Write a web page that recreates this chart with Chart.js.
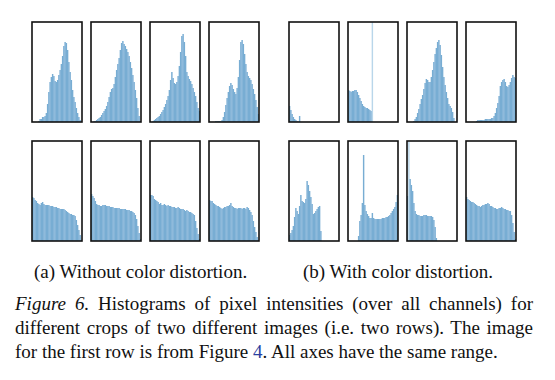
<!DOCTYPE html>
<html>
<head>
<meta charset="utf-8">
<script src="https://cdn.jsdelivr.net/npm/chart.js@4/dist/chart.umd.min.js"></script>
<style>
  html, body { margin: 0; padding: 0; background: #fff; }
  body { width: 555px; height: 380px; position: relative; overflow: hidden; font-family: "Liberation Serif", "Times New Roman", serif; color: #111; }
  .cell { position: absolute; width: 54px; height: 104px; }
  .sub { position: absolute; top: 260px; font-size: 19px; line-height: 24px; white-space: nowrap; }
  .caption { position: absolute; left: 15px; top: 292px; width: 518px; font-size: 19px; line-height: 24px; text-align: justify; }
  .caption a { color: #2a3fa0; text-decoration: none; }
</style>
</head>
<body>
<div id="plots"></div>
<div class="sub" style="left:34px">(a) Without color distortion.</div>
<div class="sub" style="left:303px">(b) With color distortion.</div>
<div class="caption"><i>Figure 6.</i> Histograms of pixel intensities (over all channels) for different crops of two different images (i.e. two rows). The image for the first row is from Figure <a>4</a>. All axes have the same range.</div>
<script>
// 40 intensity bins per histogram, heights as % of the shared y range
const bins = Array.from({ length: 40 }, (_, i) => i);

// (a) without color distortion, row 1
const a1 = [0,0,0,0,0,1,3,3,5,5,6,9,18,30,40,45,48,46,41,40,42,47,52,58,66,76,80,79,72,60,50,42,32,25,20,14,9,5,2,0];
const a2 = [0,0,1,1,2,3,4,5,7,9,11,13,16,20,25,30,33,34,38,45,52,58,64,72,79,81,78,76,73,70,66,60,54,47,40,32,24,14,6,1];
const a3 = [0,0,1,2,3,4,5,6,8,10,12,15,18,22,26,32,42,50,44,39,38,40,46,56,70,86,88,80,66,50,46,43,41,38,34,30,26,20,14,11];
const a4 = [0,0,0,0,0,1,1,1,1,1,2,5,10,17,24,30,36,39,37,33,30,28,34,45,62,80,82,78,68,58,50,46,44,42,38,33,28,22,15,8];
// (a) row 2
const a5 = [44,43,41,40,38,37,36,38,39,37,36,36,36,36,35,35,35,34,34,34,33,33,32,32,32,32,31,30,29,28,27,27,26,26,25,21,16,11,6,1];
const a6 = [47,45,43,40,37,36,36,35,35,36,36,36,35,35,35,34,34,34,33,33,33,33,33,32,32,32,32,32,31,31,31,30,30,29,28,26,22,15,8,2];
const a7 = [46,46,45,42,41,40,39,37,38,36,36,37,36,35,36,35,35,34,34,34,33,33,34,33,32,32,32,31,30,31,30,29,29,28,27,26,20,13,7,2];
const a8 = [41,40,40,38,37,36,35,35,34,33,32,33,34,34,35,35,36,38,35,34,33,33,32,33,33,33,32,33,33,32,34,33,31,29,26,20,14,9,4,1];

// (b) with color distortion, row 1
const b1 = [16,12,8,5,3,2,1,0.5,6,0,0,0,0,0,0,0,0,0,0,0,0,0,0,0,0,0,0,0,0,0,0,0,0,0,0,0,0,0,0,0];
const b2 = [32,31,30,31,31,32,32,30,27,24,21,18,16,15,14,14,13,12,11,100,0,0,0,0,0,0,0,0,0,0,0,0,0,0,0,0,0,0,0,0];
const b3 = [0,0,0,0,0,1,3,5,9,13,18,23,27,33,39,43,42,40,40,45,52,60,68,74,80,82,77,67,55,45,37,30,24,18,16,14,10,4,0,0];
const b4 = [0,0,0,0,0,0,0,0,1,2,2,2,2,2,2,3,3,3,3,3,4,4,6,9,14,19,26,36,40,42,43,40,36,35,37,40,44,47,45,44];
// (b) row 2
const b5 = [6,8,11,15,24,33,30,27,35,46,40,39,38,42,60,56,50,44,37,27,28,30,32,34,35,10,0,0,0,0,0,0,0,0,0,0,0,0,0,0];
const b6 = [0,0,0,0,0,0,0,0,5,20,26,38,86,36,30,27,25,23,23,28,23,22,22,22,22,22,22,23,23,23,24,24,25,26,28,30,32,34,39,46];
const b7 = [45,99,62,56,50,38,30,27,26,26,25,25,25,26,26,26,25,25,25,25,24,21,14,3,0,0,0,0,0,0,0,0,0,0,0,0,0,0,0,0];
const b8 = [44,42,41,40,39,39,38,37,36,35,35,34,35,36,36,37,37,38,37,35,35,34,33,33,32,32,33,33,34,33,32,32,31,31,30,30,26,18,9,2];

const rows = [[a1, a2, a3, a4, b1, b2, b3, b4], [a5, a6, a7, a8, b5, b6, b7, b8]];
const colLeft = [32, 91, 150, 209, 289, 348, 407, 466];
const rowTop = [22, 141];

// black frame round each panel
const frame = {
  id: "frame",
  afterDraw(chart) {
    const { ctx, chartArea: a } = chart;
    ctx.save();
    ctx.strokeStyle = "#111";
    ctx.lineWidth = 1.6;
    ctx.strokeRect(a.left, a.top, a.right - a.left, a.bottom - a.top);
    ctx.restore();
  },
};

const plots = document.getElementById("plots");
rows.forEach((row, r) => {
  row.forEach((vals, c) => {
    const div = document.createElement("div");
    div.className = "cell";
    div.style.left = colLeft[c] - 2 + "px";
    div.style.top = rowTop[r] - 2 + "px";
    const cv = document.createElement("canvas");
    cv.width = 54;
    cv.height = 104;
    div.appendChild(cv);
    plots.appendChild(div);

    new Chart(cv, {
      type: "bar",
      data: {
        labels: bins,
        datasets: [{
          data: vals,
          // single saturated bins (clipped spikes) show up as faint lines
          backgroundColor: (ctx) => (ctx.raw >= 95 ? "#b9d6ea" : "#78add3"),
          borderWidth: 0,
          barPercentage: 1.15,
          categoryPercentage: 1,
        }],
      },
      options: {
        responsive: false,
        animation: false,
        layout: { padding: 2 },
        plugins: { legend: { display: false }, tooltip: { enabled: false } },
        scales: {
          x: { display: false },
          y: { display: false, min: 0, max: 100 },
        },
      },
      plugins: [frame],
    });
  });
});
</script>
</body>
</html>
